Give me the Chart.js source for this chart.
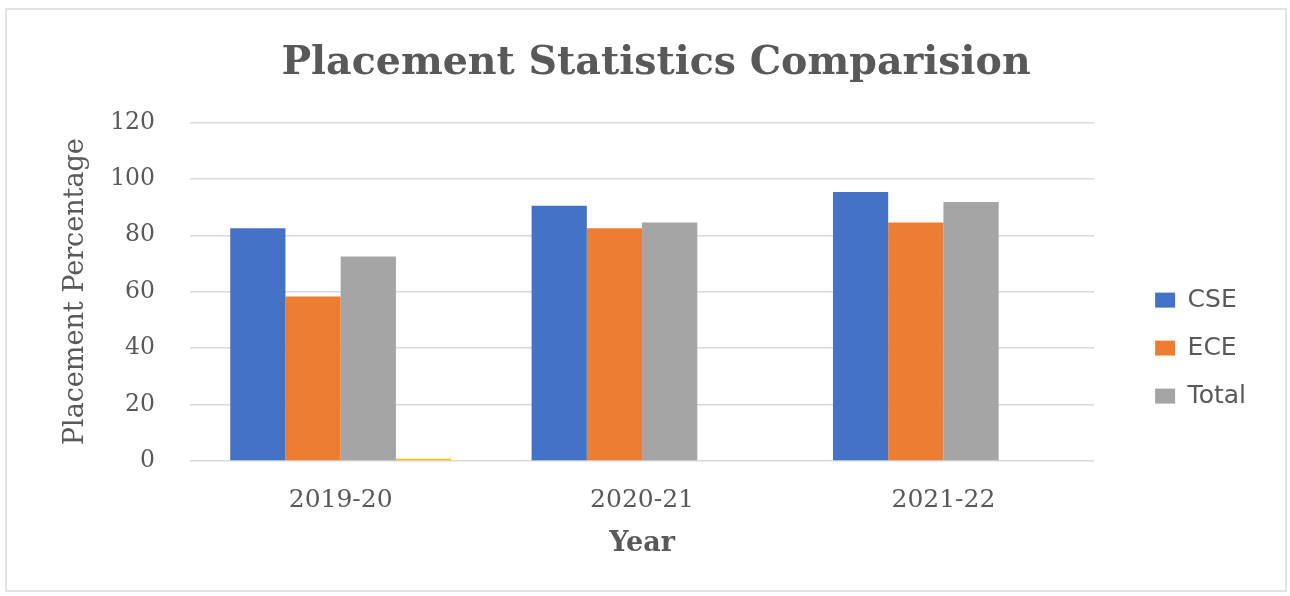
<!DOCTYPE html>
<html lang="en">
    <head>
        <title>Placement Statistics Comparision</title>
        <meta charset="utf-8">
        <script src="https://cdn.jsdelivr.net/npm/chart.js@4.4.1/dist/chart.umd.min.js"></script>
        <style>
            html, body { margin: 0; padding: 0; background: #ffffff; }
            #wrap { position: absolute; left: 0; top: 0; width: 1290px; height: 596px; }
            /* light frame round the whole chart */
            #frame { position: absolute; left: 5px; top: 8px; width: 1278px; height: 580px;
                     border: 2px solid #e3e3e3; pointer-events: none; }
        </style>
    </head>
    <body>
        <div id="wrap">
            <canvas id="placementChart"></canvas>
        </div>
        <div id="frame"></div>
        <script>
            // values
            var years = ['2019-20', '2020-21', '2021-22'];
            var cse = [82.5, 90.5, 95.3];
            var ece = [58.3, 82.5, 84.5];
            var total = [72.5, 84.5, 91.8];
            var extra = [0.8, null, null];   // tiny yellow bar, no legend entry
            var yTicks = [0, 20, 40, 60, 80, 100, 120];

            var grey = '#595959';
            var serif = '"DejaVu Serif", "Liberation Serif", serif';

            var ctx = document.getElementById('placementChart').getContext('2d');
            var myChart = new Chart(ctx, {
                type: 'bar',
                data: {
                    labels: years,
                    datasets: [
                        { label: 'CSE', data: cse, backgroundColor: '#4472C4' },
                        { label: 'ECE', data: ece, backgroundColor: '#ED7D31' },
                        { label: 'Total', data: total, backgroundColor: '#A5A5A5' },
                        { label: '', data: extra, backgroundColor: '#FFC000' }
                    ]
                },
                options: {
                    responsive: true,
                    maintainAspectRatio: false,
                    animation: false,
                    datasets: {
                        bar: { categoryPercentage: 0.733, barPercentage: 1.0 }
                    },
                    layout: { padding: { top: 10, left: 56, right: 34, bottom: 27 } },
                    plugins: {
                        tooltip: { enabled: false },
                        title: {
                            display: true,
                            text: 'Placement Statistics Comparision',
                            color: grey,
                            font: { family: serif, size: 39.5, weight: 'bold' },
                            padding: { top: 30, bottom: 35 }
                        },
                        legend: {
                            position: 'right',
                            align: 'center',
                            title: { display: true, text: ' ', font: { size: 1 }, padding: { top: 116, bottom: 0 } },
                            labels: {
                                boxWidth: 20,
                                boxHeight: 15,
                                padding: 23,
                                color: grey,
                                font: { family: '"DejaVu Sans", sans-serif', size: 25 },
                                filter: function (item) { return item.text !== ''; }
                            }
                        }
                    },
                    scales: {
                        x: {
                            grid: { display: false },
                            border: { display: false },
                            ticks: { color: grey, padding: 16, font: { family: serif, size: 25 } },
                            title: {
                                display: true,
                                text: 'Year',
                                color: grey,
                                font: { family: serif, size: 27, weight: 'bold' },
                                padding: { top: 0, bottom: 9 }
                            },
                            afterFit: function (scale) { scale.height = 108; }
                        },
                        y: {
                            min: 0,
                            max: 120,
                            afterBuildTicks: function (scale) {
                                scale.ticks = yTicks.map(function (v) { return { value: v }; });
                            },
                            grid: { color: '#d9d9d9', lineWidth: 1.5, drawTicks: false },
                            border: { display: false },
                            ticks: { color: grey, padding: 35, font: { family: serif, size: 23.5 } },
                            title: {
                                display: true,
                                text: 'Placement Percentage',
                                color: grey,
                                font: { family: serif, size: 27 },
                                padding: { top: 4, bottom: 10 }
                            },
                            afterFit: function (scale) { scale.width = 134; }
                        },
                        // empty spacer between plot and legend
                        gap: {
                            type: 'linear',
                            position: 'right',
                            display: true,
                            grid: { display: false },
                            border: { display: false },
                            ticks: { display: false },
                            afterFit: function (scale) { scale.width = 38; }
                        }
                    }
                }
            });
        </script>
    </body>
</html>
